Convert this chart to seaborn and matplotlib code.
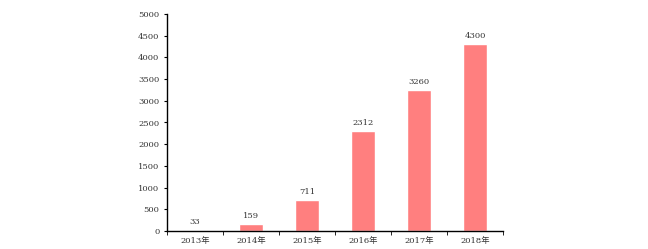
import matplotlib
matplotlib.use("Agg")
import matplotlib.pyplot as plt
import seaborn as sns
import pandas as pd
import numpy as np

years = ["2013年", "2014年", "2015年", "2016年", "2017年", "2018年"]
values = [33, 159, 711, 2312, 3260, 4300]

sns.set_style("white")
plt.rcParams['font.family'] = ['DejaVu Serif', 'Noto Sans CJK SC']

df = pd.DataFrame({"year": years, "value": values})

fig = plt.figure(figsize=(6.48, 2.49), dpi=100)
ax = fig.add_axes([167/648, 18/249, 336/648, 217/249])
sns.barplot(data=df, x="year", y="value", color="#FF7F7F", saturation=1, width=0.43, ax=ax)

for i, v in enumerate(values):
    ax.text(i, v + 90, str(v), ha="center", va="bottom", fontsize=6, color="#333333")

ax.set_xlim(-0.5, 5.5)
ax.set_ylim(0, 5000)
ax.set_yticks(np.arange(0, 5001, 500))
ax.set_xlabel("")
ax.set_ylabel("")
for s in ["top", "right"]:
    ax.spines[s].set_visible(False)
for s in ["left", "bottom"]:
    ax.spines[s].set_color("black")
    ax.spines[s].set_linewidth(1)
ax.set_xticks(np.arange(-0.5, 6, 1), minor=True)
ax.tick_params(axis="x", which="major", length=0, labelsize=6, pad=4, colors="#333333")
ax.tick_params(axis="x", which="minor", length=3, direction="out", color="black", bottom=True)
ax.tick_params(axis="y", which="major", length=2, direction="out", labelsize=6, colors="#333333", left=True)
ax.tick_params(axis="y", color="black")

fig.savefig("out.png", dpi=100)
